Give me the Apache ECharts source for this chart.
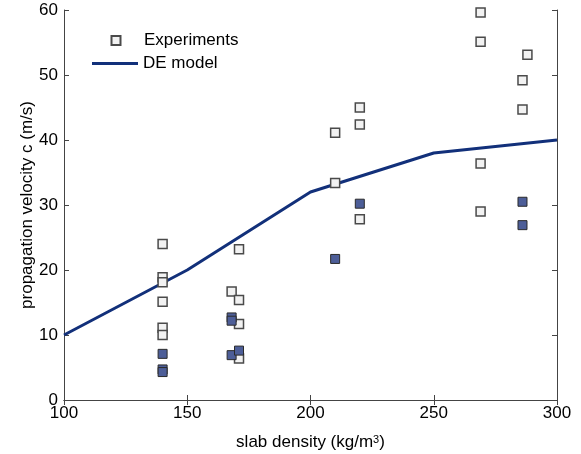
<!DOCTYPE html>
<html>
<head>
<meta charset="utf-8">
<script src="https://cdn.jsdelivr.net/npm/echarts@6/dist/echarts.min.js"></script>
<style>html,body{margin:0;padding:0;background:#fff;}#c{width:581px;height:454px;}</style>
</head>
<body>
<div id="c"></div>
<script>
// Experiments, hollow markers: [density, velocity]
const hollowX = [140,140,140,140,140,140,168,171,171,171,171,210,210,220,220,220,269,269,269,269,286,286,288];
const hollowY = [24.0,18.9,18.1,15.1,11.1,10.0,16.7,23.2,15.4,11.7,6.4,41.1,33.4,45.0,42.4,27.8,59.6,55.1,36.4,29.0,49.2,44.7,53.1];
// Experiments, filled markers
const filledX = [140,140,140,168,168,168,171,210,220,286,286];
const filledY = [7.1,4.7,4.3,12.7,12.2,6.9,7.6,21.7,30.2,30.5,26.9];
// DE model
const modelX = [100,150,200,250,300];
const modelY = [10,20,32,38,40];
const xTicks = {min:100, max:300, interval:50};
const yTicks = {min:0, max:60, interval:10};

const zip = (a,b) => a.map((v,i)=>[v,b[i]]);
const FONT = 'Liberation Sans, Arial, Helvetica, sans-serif';
const axisColor = '#444';
const lineColor = '#12307a';

const chart = echarts.init(document.getElementById('c'), null, {renderer:'canvas'});
chart.setOption({
  animation:false,
  backgroundColor:'#fff',
  textStyle:{fontFamily:FONT},
  grid:{left:64, right:24, top:10, bottom:54, containLabel:false, outerBoundsMode:'none'},
  legend:[{
    left:110.5, top:32, padding:0,
    itemWidth:9, itemHeight:9,
    data:[{name:'Experiments', icon:'rect'}],
    textStyle:{fontFamily:FONT, fontSize:17, color:'#000', lineHeight:17, padding:[0,0,0,18.5]}
  },{
    left:92, top:55, padding:0,
    itemWidth:46, itemHeight:3,
    data:[{name:'DE model', icon:'rect'}],
    textStyle:{fontFamily:FONT, fontSize:17, color:'#000', lineHeight:17}
  }],
  xAxis:[{
    type:'value', min:xTicks.min, max:xTicks.max, interval:xTicks.interval,
    name:'{m|slab density (kg/m}{sup|3}{m|)}', nameLocation:'middle', nameGap:34,
    nameMoveOverlap:false,
    nameTextStyle:{fontFamily:FONT, fontSize:17, color:'#000',
      rich:{
        m:{fontFamily:FONT, fontSize:17, color:'#000', lineHeight:17, verticalAlign:'bottom'},
        sup:{fontFamily:FONT, fontSize:11, color:'#000', verticalAlign:'top', lineHeight:11, padding:[0,0,11,0]}
      }},
    axisLine:{show:true, lineStyle:{color:axisColor, width:1}},
    axisTick:{show:true, inside:true, length:5, lineStyle:{color:axisColor}},
    axisLabel:{fontFamily:FONT, fontSize:17, color:'#000', margin:5},
    splitLine:{show:false}
  },{
    type:'value', position:'top', min:xTicks.min, max:xTicks.max, interval:xTicks.interval,
    axisLine:{show:true, lineStyle:{color:axisColor, width:1}},
    axisTick:{show:true, inside:true, length:5, lineStyle:{color:axisColor}},
    axisLabel:{show:false}, splitLine:{show:false}
  }],
  yAxis:[{
    type:'value', min:yTicks.min, max:yTicks.max, interval:yTicks.interval,
    name:'propagation velocity c (m/s)', nameLocation:'middle', nameGap:28,
    nameMoveOverlap:false,
    nameTextStyle:{fontFamily:FONT, fontSize:17, color:'#000'},
    axisLine:{show:true, lineStyle:{color:axisColor, width:1}},
    axisTick:{show:true, inside:true, length:5, lineStyle:{color:axisColor}},
    axisLabel:{fontFamily:FONT, fontSize:17, color:'#000', margin:6},
    splitLine:{show:false}
  },{
    type:'value', position:'right', min:yTicks.min, max:yTicks.max, interval:yTicks.interval,
    axisLine:{show:true, lineStyle:{color:axisColor, width:1}},
    axisTick:{show:true, inside:true, length:5, lineStyle:{color:axisColor}},
    axisLabel:{show:false}, splitLine:{show:false}
  }],
  series:[
    {
      name:'Experiments', type:'scatter', symbol:'rect', symbolSize:9, z:3,
      itemStyle:{color:'#f2f2f2', borderColor:'#4a4a4a', borderWidth:1.5, opacity:1},
      data:zip(hollowX, hollowY)
    },
    {
      name:'DE model', type:'line', showSymbol:false, symbol:'none', z:2,
      lineStyle:{color:lineColor, width:3},
      itemStyle:{color:lineColor, borderWidth:0},
      data:zip(modelX, modelY)
    },
    {
      name:'Experiments', type:'scatter', symbol:'rect', symbolSize:9, z:4,
      itemStyle:{color:'#4d5e98', borderColor:'#2a2a2a', borderWidth:1, opacity:1},
      data:zip(filledX, filledY)
    }
  ]
});
</script>
</body>
</html>
